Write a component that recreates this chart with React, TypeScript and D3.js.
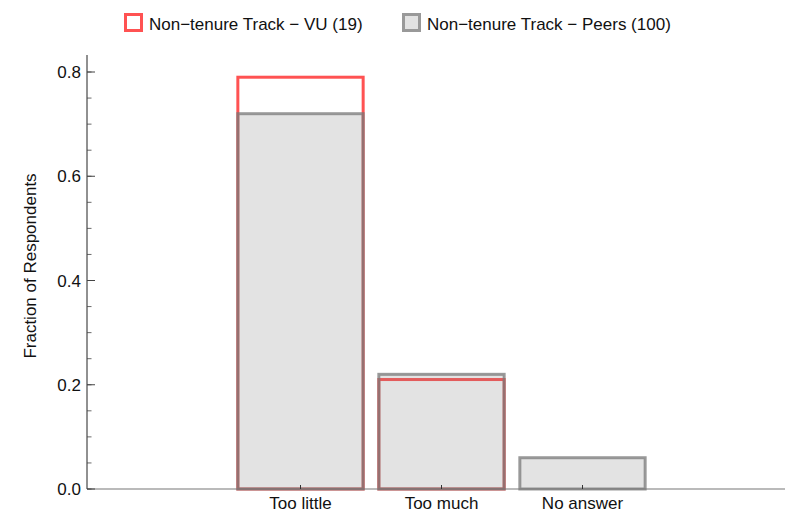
import React from "react";
import * as d3 from "d3";

const categories = ["Too little", "Too much", "No answer"];
const vuValues = [0.79, 0.21, 0.0];
const peerValues = [0.72, 0.22, 0.06];
const seriesNames = ["Non\u2212tenure Track \u2212 VU (19)", "Non\u2212tenure Track \u2212 Peers (100)"];
const yTicks = [0, 0.2, 0.4, 0.6, 0.8];
const yMinorTicks = d3.range(0, 0.8001, 0.05);

const W = 785;
const H = 532;
const FONT = "Liberation Sans, Arial, sans-serif";
const RED = "#ff5252";
const PEER_STROKE = "rgba(120,120,120,0.75)";
const PEER_FILL = "rgba(128,128,128,0.22)";
const FS = 17;

export default function App() {
  const axisX = 87;
  const axisY = 489;
  const x = d3.scaleBand<string>().domain(categories).range([230, 653]).paddingInner(0.09).paddingOuter(0.045);
  const y = d3.scaleLinear().domain([0, 0.8]).range([axisY, 72]);
  const bw = x.bandwidth();
  const sw = 3;

  return (
    <svg width={W} height={H} style={{ position: "absolute", left: 0, top: 0, background: "#fff" }} fontFamily={FONT}>
      {/* VU bars */}
      {categories.map((c, i) => {
        const x0 = (x(c) as number) + sw / 2;
        const y0 = y(vuValues[i]);
        return (
          <rect key={"vu" + c} x={x0} y={y0} width={bw - sw} height={Math.max(0, axisY - y0)} fill="#fff" stroke={RED} strokeWidth={sw} />
        );
      })}
      {/* Peer bars */}
      {categories.map((c, i) => {
        const x0 = (x(c) as number) + sw / 2;
        const y0 = y(peerValues[i]);
        return (
          <rect key={"pe" + c} x={x0} y={y0} width={bw - sw} height={Math.max(0, axisY - y0)} fill={PEER_FILL} stroke={PEER_STROKE} strokeWidth={sw} />
        );
      })}
      {/* x axis */}
      <line x1={axisX} x2={W} y1={axisY} y2={axisY} stroke="#777" strokeWidth={1.2} />
      {categories.map((c) => {
        const cx = (x(c) as number) + bw / 2;
        return (
          <g key={"xt" + c}>
            <line x1={cx} x2={cx} y1={axisY} y2={axisY - 4} stroke="#333" strokeWidth={1} />
            <text x={cx} y={axisY + 20} textAnchor="middle" fontSize={FS} fill="#111">{c}</text>
          </g>
        );
      })}
      {/* y axis */}
      <line x1={axisX} x2={axisX} y1={55} y2={axisY} stroke="#222" strokeWidth={1} />
      {yMinorTicks.map((t) => (
        <line key={"ym" + t} x1={axisX} x2={axisX + 4.5} y1={y(t)} y2={y(t)} stroke="#444" strokeWidth={0.8} />
      ))}
      {yTicks.map((t) => (
        <g key={"yt" + t}>
          <line x1={axisX} x2={axisX + 8} y1={y(t)} y2={y(t)} stroke="#444" strokeWidth={1} />
          <text x={axisX - 6} y={y(t) + 6} textAnchor="end" fontSize={FS} fill="#111">{t.toFixed(1)}</text>
        </g>
      ))}
      <text transform={`translate(36,266) rotate(-90)`} textAnchor="middle" fontSize={FS} fill="#111">
        Fraction of Respondents
      </text>
      {/* legend */}
      <rect x={125.5} y={14.5} width={16} height={16} fill="#fff" stroke={RED} strokeWidth={3} />
      <text x={149} y={30} fontSize={FS} fill="#111">{seriesNames[0]}</text>
      <rect x={403.5} y={14.5} width={16} height={16} fill="#e2e2e2" stroke="#999" strokeWidth={3} />
      <text x={427} y={30} fontSize={FS} fill="#111">{seriesNames[1]}</text>
    </svg>
  );
}
